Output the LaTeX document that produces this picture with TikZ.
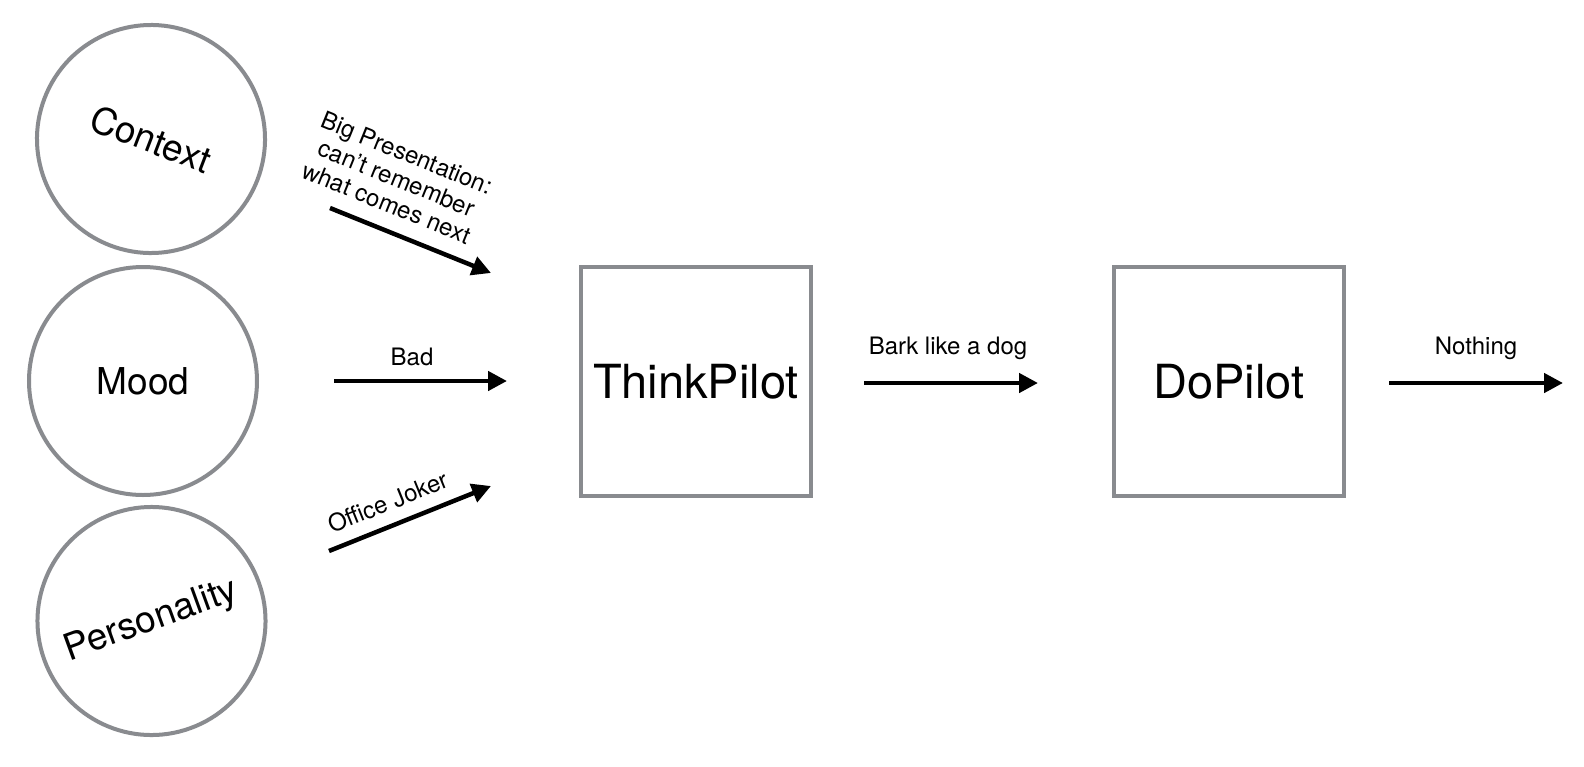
\documentclass[tikz,border=0pt]{standalone}
\usepackage{fontspec}
\setmainfont{TeX Gyre Heros}
\usetikzlibrary{arrows.meta}
\definecolor{edgegray}{RGB}{137,139,143}
\tikzset{
  inputcircle/.style={circle, draw=edgegray, line width=4pt, minimum size=228pt, inner sep=0pt,
    font=\fontsize{37}{40}\selectfont},
  pilotbox/.style={rectangle, draw=edgegray, line width=4pt, minimum width=230pt, minimum height=229pt, inner sep=0pt,
    font=\fontsize{47}{50}\selectfont},
  flow/.style={line width=4.5pt, -{Triangle[length=19pt,width=19pt]}},
  lbl/.style={font=\fontsize{24}{27}\selectfont, inner sep=0pt, align=center}
}
\begin{document}
\begin{tikzpicture}[x=1pt,y=-1pt]
\useasboundingbox (0,0) rectangle (1584,766);
% input circles
\node[inputcircle, rotate=-21] (context) at (151,139) {Context};
\node[inputcircle] (mood) at (143,381) {Mood};
\node[inputcircle, rotate=20] (personality) at (151.5,621) {Personality};
% pilot boxes
\node[pilotbox] (think) at (696,381.5) {ThinkPilot};
\node[pilotbox] (do) at (1229,381.5) {DoPilot};
% arrow end points
\coordinate (a1s) at (330,208);
\coordinate (a1e) at (491,273);
\coordinate (a2s) at (334,381);
\coordinate (a2e) at (507,381);
\coordinate (a3s) at (329,551);
\coordinate (a3e) at (491,486);
\coordinate (a4s) at (864,383);
\coordinate (a4e) at (1038,383);
\coordinate (a5s) at (1389,383);
\coordinate (a5e) at (1563,383);
% arrows
\draw[flow] (a1s) -- (a1e);
\draw[flow] (a2s) -- (a2e);
\draw[flow] (a3s) -- (a3e);
\draw[flow] (a4s) -- (a4e);
\draw[flow] (a5s) -- (a5e);
% labels
\node[lbl, rotate=-22] (l1) at (397,178) {Big Presentation:\\can't remember\\what comes next};
\node[lbl, anchor=base] (l2) at (412,365) {Bad};
\node[lbl, rotate=22] (l3) at (388,502) {Office Joker};
\node[lbl, anchor=base] (l4) at (948,354) {Bark like a dog};
\node[lbl, anchor=base] (l5) at (1476,354) {Nothing};
\end{tikzpicture}
\end{document}
